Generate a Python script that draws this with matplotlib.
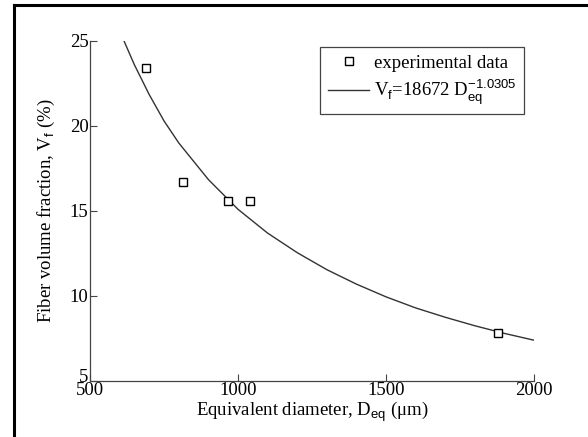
import matplotlib
matplotlib.use("Agg")
from matplotlib import pyplot as plt
from matplotlib.lines import Line2D
from matplotlib.transforms import ScaledTranslation

# measured points
d_exp = [688, 815, 967, 1040, 1880]
vf_exp = [23.4, 16.7, 15.6, 15.6, 7.8]

# fitted curve
d_fit = [615, 650, 700, 750, 800, 900, 1000, 1100, 1200, 1300, 1400,
         1500, 1600, 1700, 1800, 1900, 2000]
vf_fit = [25.0, 23.6, 21.85, 20.3, 19.0, 16.85, 15.1, 13.7, 12.55, 11.55,
          10.7, 9.95, 9.3, 8.75, 8.25, 7.8, 7.4]

plt.rcParams['font.family'] = ['Liberation Serif', 'DejaVu Serif']
plt.rcParams['mathtext.fontset'] = 'custom'
plt.rcParams['mathtext.rm'] = 'Liberation Serif'
plt.rcParams['mathtext.sf'] = 'Liberation Sans'
plt.rcParams['font.size'] = 13.5

fig = plt.figure(figsize=(5.88, 4.37), dpi=100)
ax = fig.add_axes([90/588, 1 - 381/437, 444/588, 340/437])

ax.plot(d_fit, vf_fit, color='#333333', linewidth=1.0,
        label=r'V$_\mathsf{f}$=18672 D$_\mathsf{eq}^\mathsf{-1.0305}$')
ax.plot(d_exp, vf_exp, linestyle='none', marker='s', markersize=6,
        markerfacecolor='white', markeredgecolor='black', markeredgewidth=1.0,
        label='experimental data')

ax.set_xlim(500, 2000)
ax.set_ylim(5, 25)
ax.set_xticks([500, 1000, 1500, 2000])
ax.set_yticks([5, 10, 15, 20, 25])
ax.tick_params(direction='in', length=5, width=0.8, color='#444444', pad=1)
for s in ['top', 'right']:
    ax.spines[s].set_visible(False)
for s in ['left', 'bottom']:
    ax.spines[s].set_color('#444444')
    ax.spines[s].set_linewidth(0.9)

# the "5" sits a little above the axis in the original
fig.canvas.draw()
lab5 = ax.get_yticklabels()[0]
lab5.set_transform(lab5.get_transform() + ScaledTranslation(0, 6/100, fig.dpi_scale_trans))

ax.set_xlabel(r'Equivalent diameter, D$_\mathsf{eq}$ (μm)', labelpad=0)
ax.set_ylabel(r'Fiber volume fraction, V$_\mathsf{f}$ (%)', labelpad=9)

h, l = ax.get_legend_handles_labels()
leg = ax.legend(h[::-1], l[::-1], loc='upper right', bbox_to_anchor=(524/588, 1 - 47/437),
                bbox_transform=fig.transFigure, fancybox=False, framealpha=1,
                edgecolor='#444444', handlelength=2.2, handletextpad=0.25,
                borderpad=0.4, labelspacing=0.3, borderaxespad=0)
leg.get_frame().set_linewidth(0.9)

# outer frame (top and left edges of a cropped box)
fig.add_artist(Line2D([14/588, 14/588], [0, 1 - 5/437], color='black', linewidth=2.2,
                      transform=fig.transFigure))
fig.add_artist(Line2D([14/588, 1], [1 - 5/437, 1 - 5/437], color='black', linewidth=2.2,
                      transform=fig.transFigure))

fig.savefig('out.png', dpi=100)
